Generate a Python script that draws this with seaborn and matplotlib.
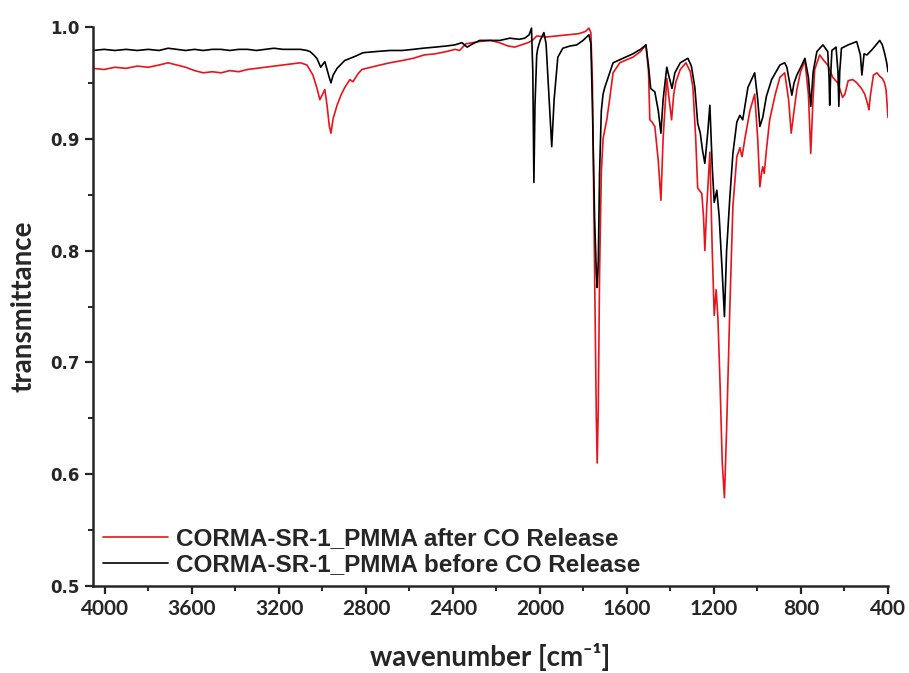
import numpy as np
import pandas as pd
from matplotlib import pyplot as plt
from matplotlib.ticker import MultipleLocator
import seaborn as sns

# spektrum po uvolneni CO (cervena)
wn_after = [4055, 4004, 3954, 3903, 3852, 3801, 3751, 3710, 3669, 3629, 3588, 3548,
            3507, 3466, 3426, 3385, 3345, 3304, 3263, 3223, 3182, 3142, 3101, 3071,
            3044, 3025, 3012, 2999, 2989, 2979, 2969, 2961, 2951, 2933, 2913, 2897,
            2874, 2860, 2837, 2819, 2776, 2735, 2690, 2634, 2583, 2532, 2482, 2431,
            2390, 2370, 2340, 2309, 2279, 2228, 2187, 2147, 2116, 2086, 2055, 2035,
            2015, 1974, 1923, 1873, 1822, 1791, 1775, 1766, 1759, 1749, 1741, 1737,
            1732, 1726, 1718, 1710, 1693, 1680, 1664, 1633, 1598, 1573, 1538, 1513,
            1501, 1495, 1485, 1472, 1456, 1444, 1434, 1417, 1406, 1395, 1385, 1375,
            1355, 1329, 1309, 1297, 1284, 1275, 1256, 1248, 1242, 1233, 1219, 1208,
            1199, 1190, 1182, 1172, 1162, 1152, 1142, 1127, 1113, 1095, 1081, 1071,
            1058, 1035, 1013, 999, 989, 981, 976, 969, 959, 944, 918, 897,
            875, 857, 845, 832, 819, 802, 782, 766, 755, 746, 737, 714,
            695, 677, 654, 631, 609, 598, 583, 562, 543, 522, 507, 492,
            488, 480, 467, 451, 438, 426, 416, 409, 404, 400]
t_after = [0.963, 0.962, 0.964, 0.963, 0.965, 0.964, 0.966, 0.968, 0.966, 0.964, 0.961, 0.959,
           0.960, 0.959, 0.961, 0.960, 0.962, 0.963, 0.964, 0.965, 0.966, 0.967, 0.968, 0.966,
           0.957, 0.945, 0.935, 0.940, 0.944, 0.930, 0.912, 0.905, 0.918, 0.930, 0.940, 0.946,
           0.953, 0.951, 0.958, 0.962, 0.964, 0.966, 0.968, 0.970, 0.972, 0.975, 0.976, 0.978,
           0.980, 0.979, 0.985, 0.986, 0.987, 0.988, 0.986, 0.983, 0.982, 0.984, 0.986, 0.988,
           0.992, 0.991, 0.992, 0.993, 0.994, 0.996, 0.999, 0.995, 0.950, 0.780, 0.650, 0.610,
           0.660, 0.780, 0.870, 0.900, 0.917, 0.935, 0.959, 0.968, 0.971, 0.973, 0.978, 0.984,
           0.960, 0.917, 0.915, 0.911, 0.880, 0.845, 0.900, 0.954, 0.935, 0.917, 0.940, 0.951,
           0.962, 0.968, 0.960, 0.946, 0.900, 0.856, 0.851, 0.830, 0.800, 0.840, 0.888, 0.800,
           0.742, 0.765, 0.740, 0.680, 0.610, 0.579, 0.640, 0.750, 0.840, 0.884, 0.892, 0.884,
           0.900, 0.925, 0.940, 0.900, 0.857, 0.870, 0.875, 0.869, 0.890, 0.917, 0.940, 0.955,
           0.959, 0.935, 0.905, 0.925, 0.944, 0.960, 0.970, 0.940, 0.887, 0.930, 0.962, 0.975,
           0.970, 0.966, 0.955, 0.950, 0.937, 0.940, 0.952, 0.953, 0.950, 0.945, 0.940, 0.930,
           0.926, 0.940, 0.957, 0.959, 0.956, 0.954, 0.950, 0.944, 0.930, 0.919]

# spektrum pred uvolnenim CO (cerna)
wn_before = [4055, 4004, 3954, 3903, 3852, 3801, 3751, 3710, 3669, 3629, 3588, 3548,
             3507, 3466, 3426, 3385, 3345, 3304, 3263, 3223, 3182, 3142, 3101, 3071,
             3057, 3040, 3026, 3008, 2997, 2989, 2979, 2969, 2961, 2951, 2933, 2898,
             2874, 2860, 2847, 2814, 2756, 2690, 2634, 2583, 2539, 2482, 2431, 2391,
             2359, 2335, 2309, 2277, 2228, 2184, 2139, 2096, 2070, 2050, 2039, 2033,
             2028, 2023, 2015, 2010, 1999, 1982, 1972, 1962, 1946, 1935, 1923, 1918,
             1895, 1862, 1831, 1802, 1775, 1766, 1759, 1749, 1741, 1737, 1732, 1726,
             1718, 1710, 1702, 1664, 1619, 1573, 1538, 1513, 1501, 1491, 1472, 1456,
             1444, 1434, 1417, 1406, 1393, 1380, 1355, 1320, 1304, 1288, 1275, 1263,
             1253, 1242, 1229, 1219, 1208, 1199, 1187, 1176, 1162, 1152, 1142, 1127,
             1113, 1095, 1081, 1068, 1044, 1013, 999, 989, 976, 959, 935, 897,
             875, 865, 852, 842, 832, 819, 796, 782, 766, 755, 744, 727,
             699, 677, 671, 668, 664, 658, 639, 630, 626, 622, 614, 583,
             544, 527, 520, 510, 497, 472, 438, 426, 415, 406, 400]
t_before = [0.979, 0.980, 0.979, 0.980, 0.979, 0.980, 0.979, 0.981, 0.980, 0.979, 0.980, 0.979,
            0.980, 0.980, 0.979, 0.980, 0.980, 0.979, 0.980, 0.981, 0.980, 0.980, 0.980, 0.979,
            0.978, 0.975, 0.972, 0.964, 0.967, 0.969, 0.962, 0.955, 0.950, 0.957, 0.963, 0.970,
            0.972, 0.973, 0.974, 0.977, 0.978, 0.979, 0.979, 0.980, 0.981, 0.982, 0.983, 0.984,
            0.986, 0.982, 0.985, 0.988, 0.988, 0.988, 0.990, 0.989, 0.990, 0.993, 0.999, 0.960,
            0.861, 0.930, 0.975, 0.981, 0.988, 0.995, 0.985, 0.950, 0.893, 0.935, 0.962, 0.973,
            0.981, 0.983, 0.984, 0.988, 0.993, 0.985, 0.930, 0.830, 0.780, 0.767, 0.790, 0.870,
            0.925, 0.940, 0.946, 0.968, 0.972, 0.976, 0.980, 0.984, 0.965, 0.945, 0.942, 0.925,
            0.905, 0.935, 0.964, 0.955, 0.945, 0.959, 0.968, 0.972, 0.965, 0.946, 0.914, 0.905,
            0.890, 0.878, 0.905, 0.930, 0.875, 0.843, 0.854, 0.830, 0.780, 0.741, 0.800, 0.848,
            0.887, 0.915, 0.921, 0.917, 0.946, 0.959, 0.935, 0.911, 0.919, 0.938, 0.953, 0.966,
            0.968, 0.964, 0.950, 0.939, 0.950, 0.957, 0.966, 0.972, 0.955, 0.929, 0.960, 0.978,
            0.984, 0.978, 0.955, 0.930, 0.955, 0.979, 0.982, 0.960, 0.929, 0.960, 0.981, 0.984,
            0.987, 0.975, 0.957, 0.976, 0.975, 0.980, 0.988, 0.984, 0.976, 0.968, 0.960]

label_after = "CORMA-SR-1_PMMA after CO Release"
label_before = "CORMA-SR-1_PMMA before CO Release"

df = pd.concat([
    pd.DataFrame({"wavenumber": wn_after, "transmittance": t_after, "vzorek": label_after}),
    pd.DataFrame({"wavenumber": wn_before, "transmittance": t_before, "vzorek": label_before}),
])

sns.set_style("ticks")
plt.rcParams["font.family"] = ["DejaVu Sans"]

fig = plt.figure(figsize=(9.09, 6.73), dpi=100)
ax = fig.add_axes([93/909, 87/673, 795/909, 559/673])

sns.lineplot(data=df, x="wavenumber", y="transmittance", hue="vzorek",
             hue_order=[label_after, label_before],
             palette={label_after: "#e8141b", label_before: "black"},
             estimator=None, linewidth=1.2, ax=ax)

ax.set_xlim(4055, 400)
ax.set_ylim(0.5, 1.0)
ax.set_xticks(np.arange(4000, 399, -400))
ax.xaxis.set_minor_locator(MultipleLocator(200))
ax.yaxis.set_major_locator(MultipleLocator(0.1))
ax.yaxis.set_minor_locator(MultipleLocator(0.05))
ax.yaxis.set_major_formatter(plt.FormatStrFormatter("%.1f"))

sns.despine(ax=ax)
for s in ["left", "bottom"]:
    ax.spines[s].set_linewidth(1.8)
ax.tick_params(which="major", direction="out", length=6, width=1.6)
ax.tick_params(which="minor", direction="out", length=3.5, width=1.4)

for lab in ax.get_yticklabels():
    lab.set_fontweight("bold")
    lab.set_fontsize(12)
for lab in ax.get_xticklabels():
    lab.set_family(["Lato", "DejaVu Sans"])
    lab.set_fontweight("bold")
    lab.set_fontsize(15)

ax.set_xlabel("wavenumber [cm⁻¹]", family=["Lato", "DejaVu Sans"],
              fontweight="bold", fontsize=20, labelpad=17)
ax.set_ylabel("transmittance", family=["Lato", "DejaVu Sans"],
              fontweight="bold", fontsize=20, labelpad=10)

ax.legend(loc="lower left", frameon=False, handlelength=2.7, handletextpad=0.3,
          labelspacing=0.12, borderaxespad=0.1, borderpad=0.3,
          prop={"family": ["Liberation Sans Narrow", "Liberation Sans"],
                "weight": "bold", "size": 17.5})

fig.savefig("out.png", dpi=100)
